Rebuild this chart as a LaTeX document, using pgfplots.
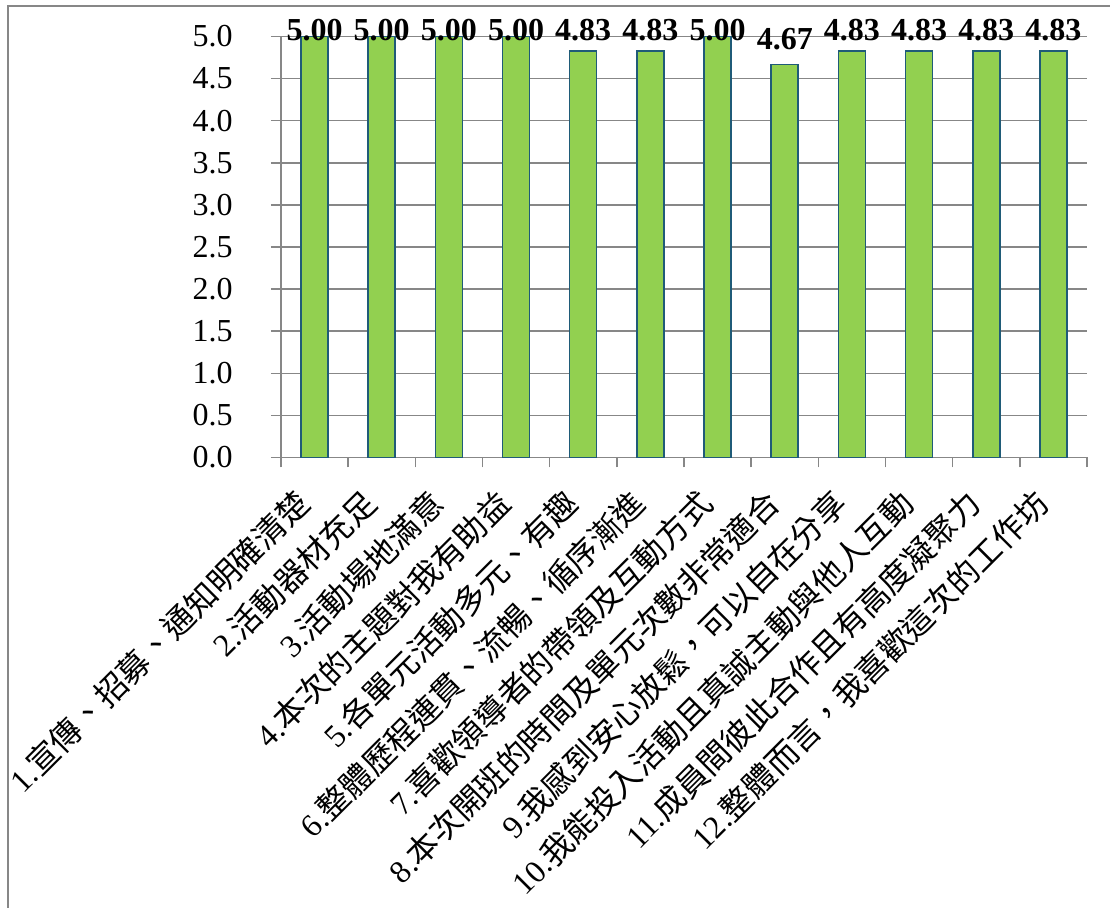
\documentclass[border=0pt]{standalone}
\usepackage{fontspec}
\setmainfont{Liberation Serif}
\newfontfamily\cjk{Noto Sans CJK TC}
\usepackage{pgfplots}
\pgfplotsset{compat=1.18}
\definecolor{barfill}{HTML}{92D050}
\definecolor{baredge}{HTML}{1F5B78}
\definecolor{gridgray}{HTML}{878787}
\newcommand\lab[2]{#1{\cjk #2}}
\begin{document}
\begin{tikzpicture}
\useasboundingbox (0,0) rectangle (555pt,454pt);
\draw[gridgray, line width=1pt] (4pt,0) -- (4pt,451pt) -- (555pt,451pt);
\begin{axis}[
  at={(140.5pt,225.25pt)}, anchor=south west,
  scale only axis, width=403pt, height=210.5pt,
  xmin=0.5, xmax=12.5, ymin=0, ymax=5,
  clip=false,
  axis lines=left,
  axis line style={gridgray, line width=0.75pt, -},
  ytick={0,0.5,1,1.5,2,2.5,3,3.5,4,4.5,5},
  ymajorgrids, grid style={gridgray, line width=0.75pt},
  tick align=outside, major tick length=5pt,
  tick style={gridgray, line width=0.75pt},
  /pgf/number format/assume math mode=true,
  yticklabel style={/pgf/number format/.cd, fixed, fixed zerofill, precision=1, /tikz/.cd,
     font=\fontsize{16}{16}\selectfont, anchor=east, inner sep=0pt, xshift=-19pt},
  xtick={0.5,1.5,...,12.5}, xticklabels={},
  extra x ticks={1,2,3,4,5,6,7,8,9,10,11,12},
  extra x tick labels={
    {\lab{1.}{宣傳、招募、通知明確清楚}},
    {\lab{2.}{活動器材充足}},
    {\lab{3.}{活動場地滿意}},
    {\lab{4.}{本次的主題對我有助益}},
    {\lab{5.}{各單元活動多元、有趣}},
    {\lab{6.}{整體歷程連貫、流暢、循序漸進}},
    {\lab{7.}{喜歡領導者的帶領及互動方式}},
    {\lab{8.}{本次開班的時間及單元次數非常適合}},
    {\lab{9.}{我感到安心放鬆，可以自在分享}},
    {\lab{10.}{我能投入活動且真誠主動與他人互動}},
    {\lab{11.}{成員間彼此合作且有高度凝聚力}},
    {\lab{12.}{整體而言，我喜歡這次的工作坊}}},
  extra x tick style={major tick length=0pt,
     xticklabel style={xshift=-11pt, yshift=-14.5pt, rotate=45, anchor=north east, inner sep=0pt,
        font=\fontsize{16}{16}\selectfont}},
]
\addplot[ybar, bar width=13.5pt, fill=barfill, draw=baredge, line width=0.75pt]
  coordinates {(1,5.00) (2,5.00) (3,5.00) (4,5.00) (5,4.83) (6,4.83)
               (7,5.00) (8,4.67) (9,4.83) (10,4.83) (11,4.83) (12,4.83)};
\addplot[draw=none, mark=none, nodes near coords, point meta=explicit symbolic,
  every node near coord/.style={anchor=base, inner sep=0pt,
     font=\bfseries\fontsize{16}{16}\selectfont}]
  coordinates {(1,4.953)[5.00] (2,4.953)[5.00] (3,4.953)[5.00] (4,4.953)[5.00]
               (5,4.953)[4.83] (6,4.953)[4.83] (7,4.953)[5.00] (8,4.846)[4.67]
               (9,4.953)[4.83] (10,4.953)[4.83] (11,4.953)[4.83] (12,4.953)[4.83]};
\end{axis}
\end{tikzpicture}
\end{document}
